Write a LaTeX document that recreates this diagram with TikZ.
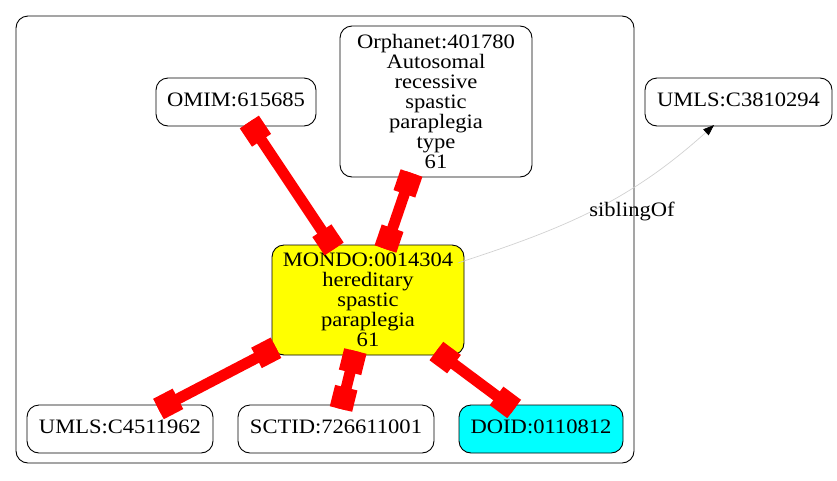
\documentclass[tikz,border=0pt]{standalone}
\usepackage{fontspec}
\setmainfont[FakeStretch=1.1]{Liberation Serif}
\usetikzlibrary{arrows.meta}
\definecolor{gvred}{RGB}{255,0,0}
\definecolor{gvyellow}{RGB}{255,255,0}
\definecolor{gvcyan}{RGB}{0,255,255}
\begin{document}
\begin{tikzpicture}[x=1pt,y=1pt,
  nodebox/.style={draw=black, line width=0.9pt, rounded corners=12pt, inner sep=0pt, outer sep=-4pt, align=center, font=\fontsize{20.5}{20}\selectfont},
  single/.style={nodebox, text height=14pt, text depth=4.6pt},
  rededge/.style={draw=gvred, line width=11pt},
  boxtip/.style={fill=gvred, draw=none, inner sep=0pt, outer sep=0pt, minimum width=22pt, minimum height=23pt, sloped, allow upside down},
  sib/.style={draw=black!18, line width=0.7pt, -{Triangle[length=11pt,width=8pt,color=black]}},
  lbl/.style={inner sep=0pt, font=\fontsize{20.5}{20}\selectfont},
]
\useasboundingbox (0,0) rectangle (837,-480);
% cluster
\node[draw=black, line width=0.9pt, rounded corners=12pt, inner sep=0pt, minimum width=618pt, minimum height=447pt] (cluster) at (325,-239.5) {};
% nodes
\node[single, minimum width=160pt, minimum height=48pt] (omim) at (236,-102) {OMIM:615685};
\node[nodebox, minimum width=192pt, minimum height=151pt] (orpha) at (436,-101.5) {Orphanet:401780\\Autosomal\\recessive\\spastic\\paraplegia\\type\\61};
\node[single, minimum width=187pt, minimum height=48pt] (umlsA) at (738.5,-102) {UMLS:C3810294};
\node[nodebox, fill=gvyellow, minimum width=192pt, minimum height=110pt] (mondo) at (368,-300) {MONDO:0014304\\hereditary\\spastic\\paraplegia\\61};
\node[single, minimum width=186pt, minimum height=48pt] (umlsB) at (120,-429) {UMLS:C4511962};
\node[single, minimum width=196pt, minimum height=48pt] (sctid) at (336,-429) {SCTID:726611001};
\node[single, fill=gvcyan, minimum width=164pt, minimum height=48pt] (doid) at (541,-429) {DOID:0110812};
% red edges
\draw[rededge] (omim) -- (mondo) node[boxtip, pos=0, anchor=west]{} node[boxtip, pos=1, anchor=east]{};
\draw[rededge] (orpha) -- (mondo) node[boxtip, pos=0, anchor=west]{} node[boxtip, pos=1, anchor=east]{};
\draw[rededge] (mondo) -- (umlsB) node[boxtip, pos=0, anchor=west]{} node[boxtip, pos=1, anchor=east]{};
\draw[rededge] (mondo) -- (sctid) node[boxtip, pos=0, anchor=west]{} node[boxtip, pos=1, anchor=east]{};
\draw[rededge] (mondo) -- (doid) node[boxtip, pos=0, anchor=west]{} node[boxtip, pos=1, anchor=east]{};
% siblingOf
\draw[sib] ([shift={(-2pt,-2pt)}]mondo.23) to[out=18, in=222] ([shift={(-3pt,-3pt)}]umlsA.223);
\node[lbl] (siblbl) at (632,-211) {siblingOf};
\end{tikzpicture}
\end{document}
